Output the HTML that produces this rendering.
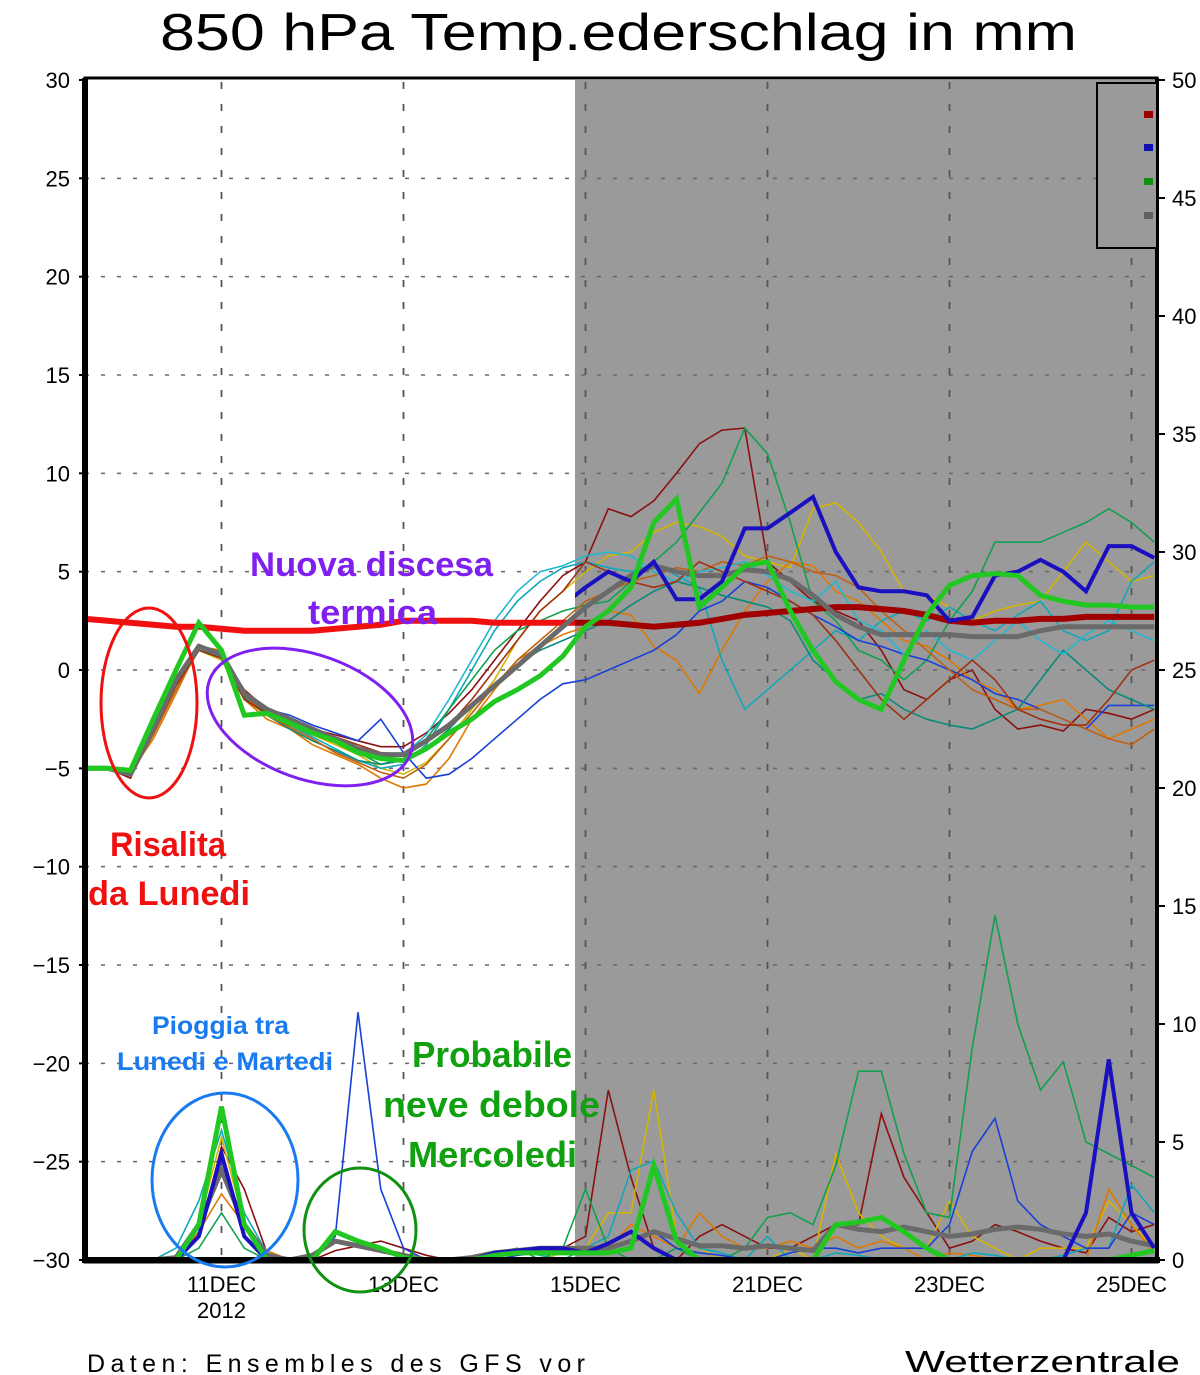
<!DOCTYPE html>
<html><head><meta charset="utf-8"><style>
html,body{margin:0;padding:0;background:#fff;}
svg{display:block;font-family:"Liberation Sans",sans-serif;}
</style></head><body>
<svg id="chart" width="1200" height="1375" viewBox="0 0 1200 1375" xmlns="http://www.w3.org/2000/svg">
<defs><clipPath id="plotclip"><rect x="85" y="80" width="1072" height="1180"/></clipPath>
<clipPath id="leftclip"><rect x="85" y="80" width="490" height="1180"/></clipPath>
<clipPath id="rightclip"><rect x="575" y="80" width="582" height="1180"/></clipPath></defs>
<text x="160" y="50" font-size="52" textLength="917" lengthAdjust="spacingAndGlyphs" fill="#000">850 hPa Temp.ederschlag in mm</text>
<rect x="575" y="80" width="582" height="1180" fill="#9a9a9a"/>
<g id="grid"></g>
<g id="temp" clip-path="url(#plotclip)"></g>
<g id="prec" clip-path="url(#plotclip)"></g>
<g id="axes"></g>
<g>
<rect x="1097" y="83" width="60" height="165" fill="#9a9a9a" stroke="#000" stroke-width="2"/>
<rect x="1144" y="111" width="9" height="7" fill="#a00000"/>
<rect x="1144" y="144" width="9" height="7" fill="#1010b0"/>
<rect x="1144" y="178" width="9" height="7" fill="#109010"/>
<rect x="1144" y="212" width="9" height="7" fill="#606060"/>
</g>
<g font-weight="bold">
<ellipse cx="149" cy="703" rx="48" ry="95" fill="none" stroke="#f01010" stroke-width="3"/>
<ellipse cx="310" cy="717" rx="107" ry="62" transform="rotate(20 310 717)" fill="none" stroke="#8020f0" stroke-width="3"/>
<ellipse cx="225" cy="1180" rx="73" ry="87" fill="none" stroke="#1a7af0" stroke-width="3"/>
<ellipse cx="360" cy="1230" rx="56" ry="62" fill="none" stroke="#109010" stroke-width="3"/>
<text x="250" y="576" font-size="34" fill="#8020f0" textLength="243" lengthAdjust="spacingAndGlyphs">Nuova discesa</text>
<text x="308" y="624" font-size="34" fill="#8020f0" textLength="129" lengthAdjust="spacingAndGlyphs">termica</text>
<text x="110" y="856" font-size="34" fill="#f01010" textLength="116" lengthAdjust="spacingAndGlyphs">Risalita</text>
<text x="88" y="905" font-size="34" fill="#f01010" textLength="162" lengthAdjust="spacingAndGlyphs">da Lunedi</text>
<text x="152" y="1034" font-size="25" fill="#1a7af0" textLength="137" lengthAdjust="spacingAndGlyphs">Pioggia tra</text>
<text x="117" y="1070" font-size="25" fill="#1a7af0" textLength="216" lengthAdjust="spacingAndGlyphs">Lunedi e Martedi</text>
<text x="412" y="1067" font-size="36" fill="#10a010" textLength="160" lengthAdjust="spacingAndGlyphs">Probabile</text>
<text x="383" y="1117" font-size="36" fill="#10a010" textLength="217" lengthAdjust="spacingAndGlyphs">neve debole</text>
<text x="408" y="1167" font-size="36" fill="#10a010" textLength="169" lengthAdjust="spacingAndGlyphs">Mercoledi</text>
</g>
<text x="87" y="1372" font-size="25" textLength="498" lengthAdjust="spacing" fill="#000">Daten: Ensembles des GFS vor</text>
<text x="905" y="1372" font-size="31" textLength="275" lengthAdjust="spacingAndGlyphs" fill="#000">Wetterzentrale</text>
</svg>
<script>
const leftTicks=[30,25,20,15,10,5,0,-5,-10,-15,-20,-25,-30];
const rightTicks=[50,45,40,35,30,25,20,15,10,5,0];
const dateTickIdx=[6,14,22,30,38,46];
const dateTickLabels=["11DEC","13DEC","15DEC","21DEC","23DEC","25DEC"];
const tMean=[-5,-5,-5.3,-3,-0.5,1.2,0.8,-1.2,-2,-2.5,-3,-3.5,-4,-4.3,-4.3,-3.6,-2.8,-1.8,-0.8,0.2,1.2,2.2,3.2,4,4.8,5.3,5,4.8,4.8,5.1,5,4.6,3.8,2.8,2.2,1.8,1.8,1.8,1.8,1.7,1.7,1.7,2,2.2,2.2,2.2,2.2,2.2];
const tOper=[-5,-5,-5.1,-2.5,0,2.4,1,-2.3,-2.2,-2.7,-3.2,-3.6,-4.2,-4.5,-4.6,-4,-3.2,-2.5,-1.6,-1,-0.3,0.7,2.2,3,4.2,7.5,8.7,3.2,4.2,5.3,5.5,3,1,-0.6,-1.5,-2,0.5,2.8,4.3,4.8,4.9,4.8,3.8,3.5,3.3,3.3,3.2,3.2];
const tCtrl=[-5,-5,-5.2,-3,-0.6,1.1,0.7,-1.3,-2.1,-2.6,-3.1,-3.6,-4.1,-4.4,-4.4,-3.6,-2.6,-1.5,-0.3,1,2.2,3.3,4.2,5,4.5,5.5,3.6,3.6,4.5,7.2,7.2,8,8.8,6,4.2,4,4,3.8,2.5,2.7,4.8,5,5.6,5,4,6.3,6.3,5.7];
const tClim=[2.6,2.5,2.4,2.3,2.2,2.2,2.1,2.0,2.0,2.0,2.0,2.1,2.2,2.3,2.5,2.5,2.5,2.5,2.4,2.4,2.4,2.4,2.4,2.4,2.3,2.2,2.3,2.4,2.6,2.8,2.9,3.0,3.1,3.2,3.2,3.1,3.0,2.8,2.5,2.4,2.5,2.5,2.6,2.6,2.7,2.7,2.7,2.7];
const m1=[-5,-5,-5.5,-3,-0.5,1.3,0.8,-1,-2,-2.5,-3,-3.3,-3.6,-3.9,-3.9,-3.2,-2.2,-1,0.5,2,3.5,4.8,5.5,8.2,7.8,8.6,10,11.5,12.2,12.3,5.5,4.5,3.5,3,2.5,1,-1,-1.5,-0.5,0,-2,-3,-2.8,-3.1,-2,-2.2,-2.5,-2];
const m2=[-5,-5,-5.3,-3.2,-1,1,0.5,-1.5,-2.3,-2.8,-3.3,-3.8,-4.3,-5,-5.3,-4.7,-3.5,-2,-0.5,1.5,3,4,5,5.8,6,7,7.5,7.3,6.8,5.8,5.5,5.2,8.2,8.5,7.5,6,4,3.8,3.2,2.5,3,3.3,3.5,5,6.5,5.5,4.5,4.8];
const m3=[-5,-5,-5.2,-3.5,-1.2,1.2,1,-1.5,-2.5,-3,-3.8,-4.3,-4.8,-5.5,-6,-5.8,-4.5,-2.5,-1,0.5,1.2,1.8,2.2,3,2.8,1.2,0.5,-1.2,1,3,4.5,5.5,5.3,4,3.5,2.5,1.5,1.2,0.5,-0.5,-1,-2,-1.8,-1.5,-2.5,-3.5,-3,-2.5];
const m4=[-5,-5,-5.1,-3,-0.8,1,0.7,-1.2,-2,-2.8,-3.4,-4,-4.6,-5,-4.8,-3.8,-2,0,2,3.5,4.5,5.2,5.5,5.2,5,5.4,4.8,4.2,0.5,-2,-1,0,1,2,1.5,2.5,3,2.5,3.2,2.5,2,2.8,3.5,2,1.5,2,4.5,5.5];
const m5=[-5,-5,-5.1,-3,-0.5,1.2,0.8,-1.3,-2.2,-2.8,-3.2,-3.7,-4.2,-4.8,-4.5,-3.5,-2,-0.5,1,2,2.5,3,3.3,3.5,4.5,5.5,6.5,8,9.5,12.3,11,7.5,3.5,2.5,1,0.5,-0.5,0.5,2.5,4,6.5,6.5,6.5,7,7.5,8.2,7.5,6.5];
const m6=[-5,-5,-5.2,-3,-0.5,1.2,0.8,-1.2,-2,-2.3,-2.8,-3.2,-3.6,-2.5,-4.2,-5.5,-5.3,-4.5,-3.5,-2.5,-1.5,-0.7,-0.5,0,0.5,1,1.8,3,3.5,4.5,4.2,3.5,2.8,2.2,1.5,1.2,0.8,0.5,0,-0.5,-1.2,-1.5,-2,-2.5,-3,-1.8,-1.8,-1.8];
const m7=[-5,-5,-5.1,-3,-0.6,1,0.6,-1.4,-2.3,-3,-3.6,-4.1,-4.6,-4.8,-4.6,-4,-3,-1.8,-0.8,0.3,1,1.5,2,2.5,3.3,4,4.5,4.2,3.8,3.5,3.2,2.5,0.5,-0.5,-1.5,-1.2,-2,-2.5,-2.8,-3,-2.5,-2,-0.5,1,0,-1,-1.5,-2];
const m8=[-5,-5,-5.4,-3.3,-1,1.1,0.9,-1.3,-2.3,-2.9,-3.5,-4.2,-4.7,-5.2,-5.5,-4.8,-3.5,-2.2,-0.8,0.5,1.5,2.5,3.5,4,4.5,4.8,5.2,5,5.5,5.3,5.8,5.5,5,4.8,4.2,3,2,1,0,-1,-1.5,-2,-2,-2.5,-3,-3.5,-3.8,-3];
const m9=[-5,-5,-5.1,-3.1,-0.7,1.1,0.8,-1.2,-1.9,-2.5,-3,-3.5,-4.2,-4.5,-4.3,-3.3,-1.5,0.5,2.5,4,5,5.3,5.8,6,5.8,5,4.5,5,5.2,5.5,4.8,4,3.5,4.5,2.5,2,0.8,2,1,0.5,1.5,2.5,1.5,0.8,1.8,2.5,2,1.5];
const m10=[-5,-5,-5.3,-3.2,-0.8,1,0.6,-1.5,-2.2,-2.6,-3,-3.4,-3.8,-4.2,-4.3,-3.7,-2.8,-1.5,0,1.5,3,4,5.5,5,4.5,4.2,4.5,5.5,5,4.5,4,3.5,2.8,1.5,0,-1.5,-2.5,-1.5,-0.5,0.5,-0.5,-2,-2.5,-2.8,-2.8,-1.5,0,0.5];
const pMean=[0,0,0,0,0.1,1.5,3.8,1.5,0.2,0,0.2,0.8,0.6,0.4,0.2,0,0,0.1,0.3,0.4,0.5,0.5,0.5,0.5,0.8,1.2,0.9,0.6,0.6,0.5,0.6,0.5,0.4,1.5,1.3,1.2,1.4,1.2,1,1.1,1.3,1.4,1.3,1.1,1,1.1,0.8,0.6];
const pOper=[0,0,0,0,0,1.5,6.5,1.5,0,0,0,1.2,0.8,0.5,0.1,0,0,0,0.2,0.3,0.3,0.3,0.3,0.3,0.5,4,0.8,0,0,0,0,0,0,1.5,1.6,1.8,1.2,0.5,0,0,0,0,0,0,0,0,0.2,0.4];
const pCtrl=[0,0,0,0,0,1,4.5,1,0,0,0,0,0,0,0,0,0,0,0.3,0.4,0.5,0.5,0.3,0.7,1.2,0.5,0,0,0,0,0,0,0,0,0,0,0,0,0,0,0,0,0,0,2,8.5,2,0.5];
const p1=[0,0,0,0,0,1,4.8,3,0.3,0,0,0.4,0.6,0.8,0.5,0.2,0,0,0,0,0,0.5,1,7.2,3.5,0.5,0,1,1.5,1,0.5,0.5,1,1.5,1.5,6.2,3.5,2,0.5,0.8,1.5,1.2,0.8,0.5,0.3,1.8,1.2,1.5];
const p2=[0,0,0,0,0,1.5,5.2,1.5,0,0,0,0,0,0,0,0,0,0,0,0,0,0.3,0.5,2,2,7.2,1,0.5,0,0,0,0.5,0,4.5,2,1,0.5,0.5,2.5,1,0.5,0,0.5,0.5,0.5,2.5,1.5,0.5];
const p3=[0,0,0,0,0,1.2,2.8,1.5,0.4,0,0,0,0,0,0,0,0,0,0,0,0,0,0.5,0.5,1.5,1,0.5,2,1,0.5,0.5,0.8,0.5,1,0.5,0.8,0.5,0,0.3,0.2,0,0,0,0,0,3,1.5,0.3];
const p4=[0,0,0,0,0.5,2.5,5.5,2,0.3,0,0,0,0,0,0,0,0,0,0.2,0.4,0.2,0,0.5,1,3.8,4.2,2,0.5,0.3,0,1,0,0,0.3,0.2,0,0,0,0,0.3,0.2,0,0,0.2,0.5,0.5,3.2,2];
const p5=[0,0,0,0,0,0.5,2,0.5,0,0,0,0,0,0,0,0,0,0,0.3,0.5,0,0.5,3,0.5,0,0,0.5,0,0,0.5,1.8,2,1.5,4,8,8,4.5,2,1.8,9,14.6,10,7.2,8.4,5,4.5,4,3.5];
const p6=[0,0,0,0,0,1,4,1,0,0,0,1,10.5,3,0.5,0,0,0,0,0.2,0.3,0.3,0.5,0.5,0.8,1.2,0.5,0.3,0.2,0,0,0.3,0.5,0.5,0.3,0.5,0.5,0.5,1.5,4.6,6,2.5,1.5,1,0.5,0.5,2,1.5];
const colors=["#8b1010","#d4b400","#e07800","#10a8b8","#10a050","#1840d8","#0a8a78","#c06010","#20b8d0","#a03010"];
const tMembers=[m1,m2,m3,m4,m5,m6,m7,m8,m9,m10];
const pMembers=[p1,p2,p3,p4,p5,p6];
const pColors=["#8b1010","#d4b400","#e07800","#10a8b8","#10a050","#1840d8"];

const NS="http://www.w3.org/2000/svg";
const X0=85,DX=22.75;
const xs=i=>X0+i*DX;
const yT=v=>670-v*19.667;
const yP=v=>1260-v*23.6;
function mk(tag,attrs,parent){const e=document.createElementNS(NS,tag);for(const k in attrs)e.setAttribute(k,attrs[k]);parent.appendChild(e);return e;}
function pts(arr,yf){return arr.map((v,i)=>xs(i).toFixed(1)+","+yf(v).toFixed(1)).join(" ");}
const grid=document.getElementById("grid"),axes=document.getElementById("axes"),temp=document.getElementById("temp"),prec=document.getElementById("prec");
leftTicks.forEach(v=>{
 if(v!==30&&v!==-30){const l=mk("line",{x1:X0,x2:1157,y1:yT(v),y2:yT(v),stroke:"#666","stroke-width":1.5,"stroke-dasharray":"4 12"},grid);
 }
 const t=mk("text",{x:70,y:yT(v)+8,"font-size":22,"text-anchor":"end",fill:"#000"},axes);
 
 t.textContent=v<0?"\u2212"+(-v):String(v);
 const tk=mk("line",{x1:X0-6,x2:X0,y1:yT(v),y2:yT(v),stroke:"#000","stroke-width":2},axes);
 
});
rightTicks.forEach(v=>{
 const t=mk("text",{x:1172,y:yP(v)+8,"font-size":22,fill:"#000"},axes);
 
 t.textContent=String(v);
 const tk=mk("line",{x1:1157,x2:1165,y1:yP(v),y2:yP(v),stroke:"#000","stroke-width":2},axes);
 
});
dateTickIdx.forEach((i,k)=>{
 const l=mk("line",{x1:xs(i),x2:xs(i),y1:82,y2:1258,stroke:"#555","stroke-width":1.8,"stroke-dasharray":"7 15"},grid);
 
 const t=mk("text",{x:xs(i),y:1292,"font-size":22,"text-anchor":"middle",fill:"#000"},axes);
 
 t.textContent=dateTickLabels[k];
});
const yr=mk("text",{x:xs(6),y:1318,"font-size":22,"text-anchor":"middle",fill:"#000"},axes);

yr.textContent="2012";
const fr=mk("path",{d:"M85,78 L1157,78 L1157,1262 L85,1262 Z",fill:"none",stroke:"#000","stroke-width":3},axes);

const lf=mk("line",{x1:85,x2:85,y1:78,y2:1262,stroke:"#000","stroke-width":6},axes);

const bf=mk("line",{x1:82,x2:1160,y1:1260,y2:1260,stroke:"#000","stroke-width":6},axes);

const rf=mk("line",{x1:1157,x2:1157,y1:78,y2:1262,stroke:"#000","stroke-width":4},axes);


tMembers.forEach((m,k)=>{
 const p=mk("polyline",{points:pts(m,yT),fill:"none",stroke:colors[k],"stroke-width":1.6},temp);
 
});
pMembers.forEach((m,k)=>{
 const p=mk("polyline",{points:pts(m,yP),fill:"none",stroke:pColors[k],"stroke-width":1.6},prec);
 
});
const c1=mk("polyline",{points:pts(tClim,yT),fill:"none",stroke:"#f01010","stroke-width":6,"clip-path":"url(#leftclip)"},temp);

const c2=mk("polyline",{points:pts(tClim,yT),fill:"none",stroke:"#a00000","stroke-width":6,"clip-path":"url(#rightclip)"},temp);

const tm=mk("polyline",{points:pts(tMean,yT),fill:"none",stroke:"#6a6a6a","stroke-width":5},temp);

const tc=mk("polyline",{points:pts(tCtrl,yT),fill:"none",stroke:"#1a10c0","stroke-width":4,"clip-path":"url(#rightclip)"},temp);

const to=mk("polyline",{points:pts(tOper,yT),fill:"none",stroke:"#22c822","stroke-width":5},temp);

const pm=mk("polyline",{points:pts(pMean,yP),fill:"none",stroke:"#6a6a6a","stroke-width":5},prec);

const pc=mk("polyline",{points:pts(pCtrl,yP),fill:"none",stroke:"#1a10c0","stroke-width":4},prec);

const po=mk("polyline",{points:pts(pOper,yP),fill:"none",stroke:"#22c822","stroke-width":5},prec);

</script>
</body></html>
